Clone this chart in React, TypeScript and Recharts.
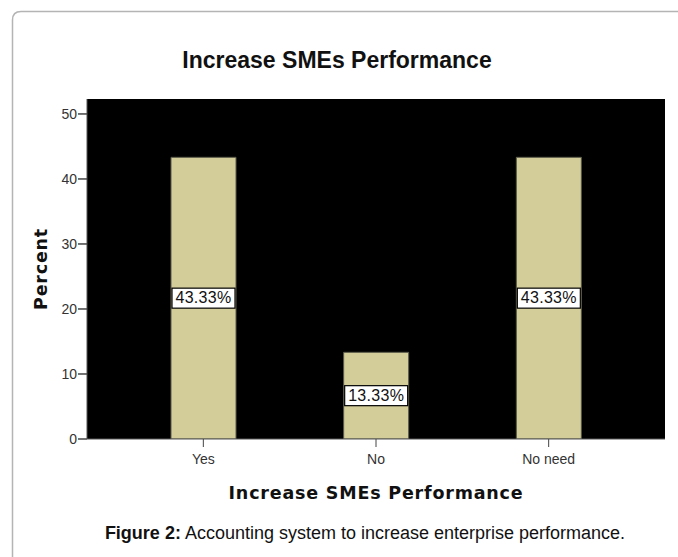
import React from 'react';
import { BarChart, Bar, XAxis, YAxis, CartesianGrid, LabelList, Label } from 'recharts';

const categories = ['Yes', 'No', 'No need'];
const percents = [43.33, 13.33, 43.33];
const yTicks = [0, 10, 20, 30, 40, 50];

const data = categories.map((c, i) => ({ name: c, value: percents[i] }));

const BarValueLabel = (props: any) => {
  const { x, y, width, height, value } = props;
  const cx = x + width / 2;
  const cy = y + height / 2;
  const bh = 20;
  return (
    <g>
      <rect x={x + 1} y={cy - bh / 2} width={width - 2} height={bh} fill="#ffffff" stroke="#000" strokeWidth={1.2} />
      <text x={cx} y={cy + 1} textAnchor="middle" dominantBaseline="middle" fontFamily="Liberation Sans, Arial, sans-serif" fontSize={16} letterSpacing={0.3} fill="#111">
        {`${Number(value).toFixed(2)}%`}
      </text>
    </g>
  );
};

const XTitle = (props: any) => {
  const { viewBox } = props;
  const cx = viewBox.x + viewBox.width / 2;
  return (
    <text x={cx} y={499} textAnchor="middle" fontFamily="DejaVu Sans, Verdana, sans-serif" fontWeight="bold" fontSize={17.5} letterSpacing={0.8} fill="#111">
      Increase SMEs Performance
    </text>
  );
};

const YTitle = (props: any) => {
  const { viewBox } = props;
  const cy = viewBox.y + viewBox.height / 2;
  return (
    <text x={0} y={0} transform={`translate(47, ${cy}) rotate(-90)`} textAnchor="middle" fontFamily="DejaVu Sans, Verdana, sans-serif" fontWeight="bold" fontSize={17.5} letterSpacing={0.8} fill="#111">
      Percent
    </text>
  );
};

export default function App() {
  return (
    <div style={{ position: 'fixed', left: 0, top: 0, width: 678, height: 557, overflow: 'hidden', background: '#fff' }}>
      <svg width={678} height={557} style={{ position: 'absolute', left: 0, top: 0 }}>
        <path d="M 12.5 557 L 12.5 20 Q 12.5 11.5 21 11.5 L 678 11.5" fill="none" stroke="#b4b4b4" strokeWidth={1.5} />
      </svg>
      <div style={{ position: 'absolute', left: 0, top: 47, width: 674, textAlign: 'center', fontFamily: 'Liberation Sans, Arial, sans-serif', fontWeight: 'bold', fontSize: 23, color: '#111' }}>
        Increase SMEs Performance
      </div>
      <div style={{ position: 'absolute', left: 0, top: 0 }}>
        <BarChart width={678} height={557} data={data} margin={{ top: 99, right: 13, left: 0, bottom: 88 }}>
          <CartesianGrid horizontal={false} vertical={false} fill="#000" stroke="#000" />
          <XAxis
            dataKey="name"
            padding={{ left: 30, right: 30 }}
            height={30}
            tickSize={8}
            tickMargin={7}
            axisLine={{ stroke: '#555' }}
            tickLine={{ stroke: '#444' }}
            tick={{ fontFamily: 'Liberation Sans, Arial, sans-serif', fontSize: 14, fill: '#333' }}
          >
            <Label content={<XTitle />} />
          </XAxis>
          <YAxis
            width={87}
            domain={[0, 52.3]}
            ticks={yTicks}
            allowDataOverflow
            tickSize={9}
            tickMargin={1}
            axisLine={{ stroke: '#555' }}
            tickLine={{ stroke: '#444', strokeWidth: 1.5 }}
            tick={{ fontFamily: 'Liberation Sans, Arial, sans-serif', fontSize: 14, fill: '#333' }}
          >
            <Label content={<YTitle />} />
          </YAxis>
          <Bar dataKey="value" barSize={65} fill="#d3cd99" stroke="#5a5a4a" strokeWidth={1} isAnimationActive={false}>
            <LabelList dataKey="value" content={<BarValueLabel />} />
          </Bar>
        </BarChart>
      </div>
      <div style={{ position: 'absolute', left: 0, top: 523, width: 730, textAlign: 'center', fontFamily: 'Liberation Sans, Arial, sans-serif', fontSize: 18, color: '#111' }}>
        <b>Figure 2:</b> Accounting system to increase enterprise performance.
      </div>
    </div>
  );
}
